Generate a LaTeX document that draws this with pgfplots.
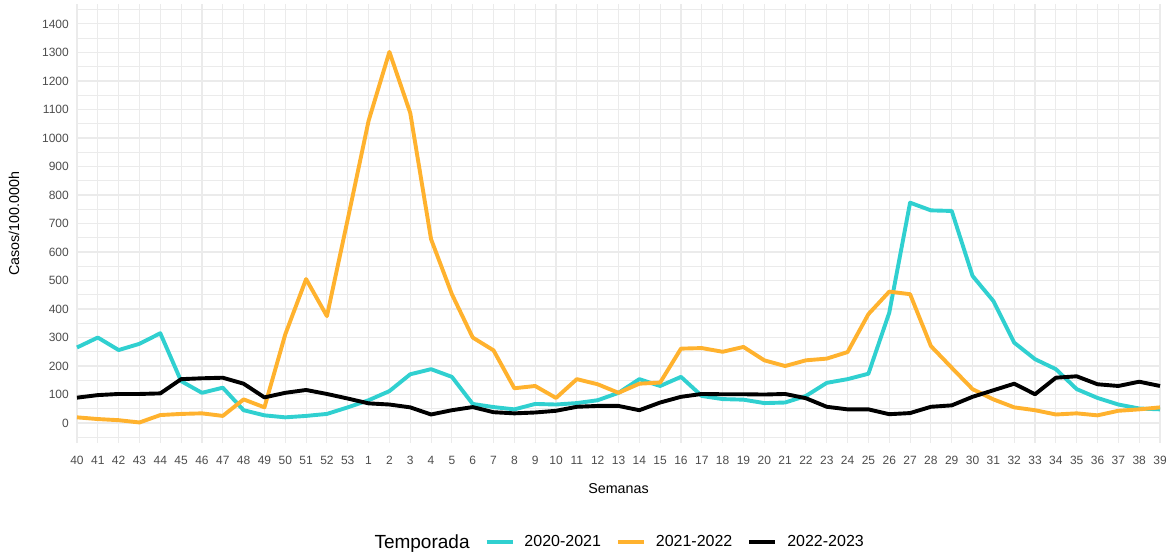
\documentclass[border=0pt]{standalone}
\usepackage{fontspec}
\setmainfont{Liberation Sans}
\usepackage{pgfplots}
\pgfplotsset{compat=1.18}

\definecolor{c2021}{RGB}{48,208,208}
\definecolor{c2122}{RGB}{255,178,46}
\definecolor{c2223}{RGB}{0,0,0}
\definecolor{gridgray}{RGB}{235,235,235}
\definecolor{ticktext}{RGB}{77,77,77}

\begin{document}
\begin{tikzpicture}
\useasboundingbox (0,0) rectangle (1166pt,553pt);
\begin{axis}[
    at={(77pt,110pt)}, anchor=south west,
    scale only axis,
    width=1083pt, height=439pt,
    xmin=0, xmax=52,
    ymin=-70, ymax=1470,
    clip=false,
    axis line style={draw=none},
    tick style={draw=none},
    xtick={0,...,52},
    xticklabels={40,41,42,43,44,45,46,47,48,49,50,51,52,53,1,2,3,4,5,6,7,8,9,10,11,12,13,14,15,16,17,18,19,20,21,22,23,24,25,26,27,28,29,30,31,32,33,34,35,36,37,38,39},
    ytick={0,100,...,1400},
    minor ytick={-50,50,...,1450},
    xmajorgrids, ymajorgrids, yminorgrids,
    major grid style={draw=gridgray, line width=1.1pt},
    minor grid style={draw=gridgray, line width=0.6pt},
    /pgf/number format/assume math mode=true,
    /pgf/number format/1000 sep={},
    ticklabel style={font=\fontsize{12}{12}\selectfont, text=ticktext, inner sep=0pt},
    xticklabel style={yshift=-13pt},
    yticklabel style={xshift=-8pt},
    xlabel={Semanas},
    ylabel={Casos/100.000h},
    label style={font=\fontsize{14.3}{14.3}\selectfont},
    xlabel style={at={(axis description cs:0.5,-0.103)}, anchor=center},
    ylabel style={at={(axis description cs:-0.0582,0.5)}, anchor=center},
    legend columns=-1,
    legend style={at={(axis description cs:0.496,-0.2255)}, anchor=center,
        draw=none, fill=none,
        font=\fontsize{16}{16}\selectfont,
        nodes={inner sep=0pt},
        /tikz/every odd column/.append style={column sep=10pt},
        /tikz/every even column/.append style={column sep=15pt}},
    legend image code/.code={\draw[#1] (0pt,0pt) -- (26pt,0pt);},
    every axis plot/.append style={line width=3.9pt, line join=round},
]
\addlegendimage{empty legend}
\addlegendentry{\fontsize{19}{19}\selectfont Temporada}

\addplot[c2021] coordinates {
(0,265) (1,300) (2,256) (3,278) (4,315) (5,147) (6,106) (7,124) (8,45) (9,27)
(10,20) (11,25) (12,32) (13,55) (14,80) (15,112) (16,171) (17,189) (18,162) (19,67)
(20,56) (21,48) (22,67) (23,65) (24,70) (25,80) (26,106) (27,154) (28,130) (29,162)
(30,95) (31,84) (32,82) (33,70) (34,72) (35,95) (36,141) (37,154) (38,173) (39,387)
(40,773) (41,746) (42,744) (43,516) (44,428) (45,282) (46,224) (47,189) (48,119) (49,88)
(50,65) (51,51) (52,48)
};
\addlegendentry{2020-2021}

\addplot[c2122] coordinates {
(0,20) (1,14) (2,10) (3,2) (4,28) (5,32) (6,34) (7,25) (8,83) (9,55)
(10,311) (11,505) (12,375) (13,715) (14,1060) (15,1302) (16,1088) (17,645) (18,452) (19,300)
(20,255) (21,122) (22,130) (23,88) (24,154) (25,136) (26,106) (27,138) (28,142) (29,261)
(30,263) (31,250) (32,267) (33,220) (34,200) (35,220) (36,226) (37,249) (38,382) (39,461)
(40,452) (41,270) (42,194) (43,119) (44,83) (45,55) (46,45) (47,30) (48,34) (49,27)
(50,43) (51,48) (52,55)
};
\addlegendentry{2021-2022}

\addplot[c2223] coordinates {
(0,89) (1,98) (2,102) (3,102) (4,104) (5,154) (6,157) (7,159) (8,138) (9,90)
(10,106) (11,116) (12,102) (13,86) (14,69) (15,65) (16,55) (17,30) (18,45) (19,56)
(20,38) (21,34) (22,37) (23,43) (24,57) (25,60) (26,60) (27,45) (28,72) (29,92)
(30,102) (31,101) (32,101) (33,100) (34,102) (35,87) (36,57) (37,48) (38,48) (39,31)
(40,35) (41,57) (42,62) (43,92) (44,115) (45,138) (46,101) (47,159) (48,164) (49,136)
(50,130) (51,145) (52,130)
};
\addlegendentry{2022-2023}
\end{axis}
\end{tikzpicture}
\end{document}
